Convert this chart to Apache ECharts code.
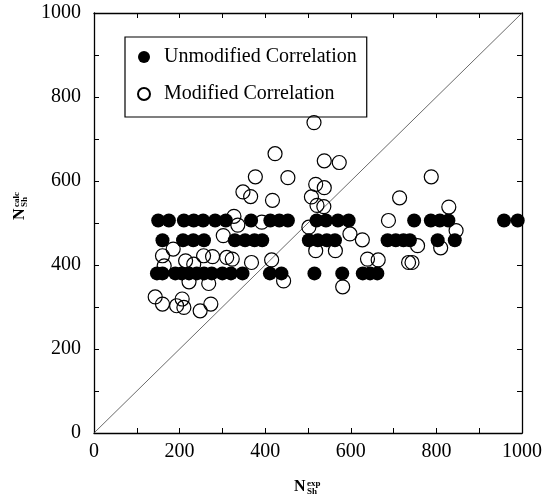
<!DOCTYPE html>
<html>
<head>
<meta charset="utf-8">
<script src="https://cdn.jsdelivr.net/npm/echarts@6/dist/echarts.min.js"></script>
<style>
    html, body { margin: 0; padding: 0; background: #fff; }
    #main { width: 554px; height: 501px; }
</style>
</head>
<body>
<div id="main"></div>
<script type="text/javascript">
    // 数据
    var unmodHighY = 506, unmodMidY = 459, unmodLowY = 380;
    var unmodHighX = [150, 175, 210, 233, 255, 283, 308, 367, 412, 433, 453, 520, 542, 570, 595, 748, 787, 808, 828, 958, 990];
    var unmodMidX = [160, 208, 232, 257, 329, 353, 375, 393, 502, 523, 544, 563, 686, 705, 723, 738, 803, 843];
    var unmodLowX = [147, 160, 190, 205, 222, 240, 257, 275, 300, 320, 347, 411, 438, 515, 580, 628, 645, 662];

    var modX = [514, 423, 377, 453, 538, 573, 788, 348, 366, 417, 508, 518, 538, 521, 537, 714, 829,
                327, 336, 392, 502, 688, 302, 598, 627, 846, 810, 756, 160, 164, 185, 214, 233, 256,
                277, 310, 323, 368, 415, 518, 564, 639, 664, 735, 743, 443, 268, 581, 222, 143, 160,
                193, 206, 210, 248, 273];
    var modY = [739, 665, 610, 608, 648, 644, 610, 574, 563, 554, 562, 592, 584, 542, 539, 560, 538,
                516, 495, 502, 490, 506, 470, 474, 460, 482, 441, 446, 422, 398, 438, 410, 402, 422,
                420, 418, 414, 406, 412, 434, 434, 414, 412, 406, 406, 362, 356, 348, 360, 324, 307,
                303, 319, 299, 291, 307];

    var diagX = [0, 1000];
    var diagY = [0, 1000];

    function pts(xs, ys) {
        var out = [];
        for (var i = 0; i < xs.length; i++) {
            out.push([xs[i], typeof ys === 'number' ? ys : ys[i]]);
        }
        return out;
    }
    var unmodData = pts(unmodHighX, unmodHighY).concat(pts(unmodMidX, unmodMidY), pts(unmodLowX, unmodLowY));

    var serif = 'Liberation Serif';
    var black = '#000';

    function axisCommon(pos, showLabel) {
        return {
            type: 'value',
            position: pos,
            min: 0,
            max: 1000,
            interval: 200,
            axisLine: { show: true, onZero: false, lineStyle: { color: black, width: 1.3 } },
            axisTick: { show: true, inside: true, length: 5, lineStyle: { color: black, width: 1 } },
            minorTick: { show: true, splitNumber: 2, length: 5, lineStyle: { color: black, width: 1 } },
            splitLine: { show: false },
            axisLabel: {
                show: showLabel,
                color: black,
                fontFamily: serif,
                fontSize: 20,
                margin: pos === 'bottom' ? 9 : 13,
                formatter: function (v) { return String(v); }
            }
        };
    }

    // axis titles N_Sh^exp / N_Sh^calc
    function titleParts(sup) {
        return [
            { type: 'text', x: 0, y: 0, style: { text: 'N', font: 'bold 16px ' + serif, fill: black } },
            { type: 'text', x: 13, y: 0, style: { text: sup, font: 'bold 9px ' + serif, fill: black } },
            { type: 'text', x: 13, y: 8, style: { text: 'Sh', font: 'bold 9px ' + serif, fill: black } }
        ];
    }

    var myChart = echarts.init(document.getElementById('main'));
    myChart.setOption({
        animation: false,
        backgroundColor: '#fff',
        grid: {
            left: 94,
            right: 32,
            top: 13,
            bottom: 68,
            containLabel: false,
            outerBoundsMode: 'none'
        },
        xAxis: [axisCommon('bottom', true), axisCommon('top', false)],
        yAxis: [axisCommon('left', true), axisCommon('right', false)],
        legend: {
            orient: 'vertical',
            left: 125,
            top: 37,
            padding: [9, 10, 12, 12],
            itemGap: 15,
            itemWidth: 12,
            itemHeight: 12,
            borderColor: black,
            borderWidth: 1.2,
            data: [
                { name: 'Unmodified Correlation', icon: 'circle' },
                { name: 'Modified Correlation', icon: 'circle' }
            ],
            textStyle: { color: black, fontFamily: serif, fontSize: 20, lineHeight: 22, padding: [0, 0, 0, 9] }
        },
        graphic: [
            { type: 'group', x: 294, y: 479, children: titleParts('exp') },
            { type: 'group', x: 12, y: 220, rotation: Math.PI / 2, children: titleParts('calc') }
        ],
        series: [
            {
                name: 'diag',
                type: 'line',
                data: pts(diagX, diagY),
                symbol: 'none',
                silent: true,
                lineStyle: { color: '#444', width: 0.8 },
                z: 1
            },
            {
                name: 'Modified Correlation',
                type: 'scatter',
                data: pts(modX, modY),
                symbol: 'circle',
                symbolSize: 14,
                itemStyle: { color: 'rgba(0,0,0,0)', borderColor: black, borderWidth: 1.2, opacity: 1 },
                z: 2
            },
            {
                name: 'Unmodified Correlation',
                type: 'scatter',
                data: unmodData,
                symbol: 'circle',
                symbolSize: 14,
                itemStyle: { color: black, opacity: 1 },
                z: 3
            }
        ]
    });
</script>
</body>
</html>
